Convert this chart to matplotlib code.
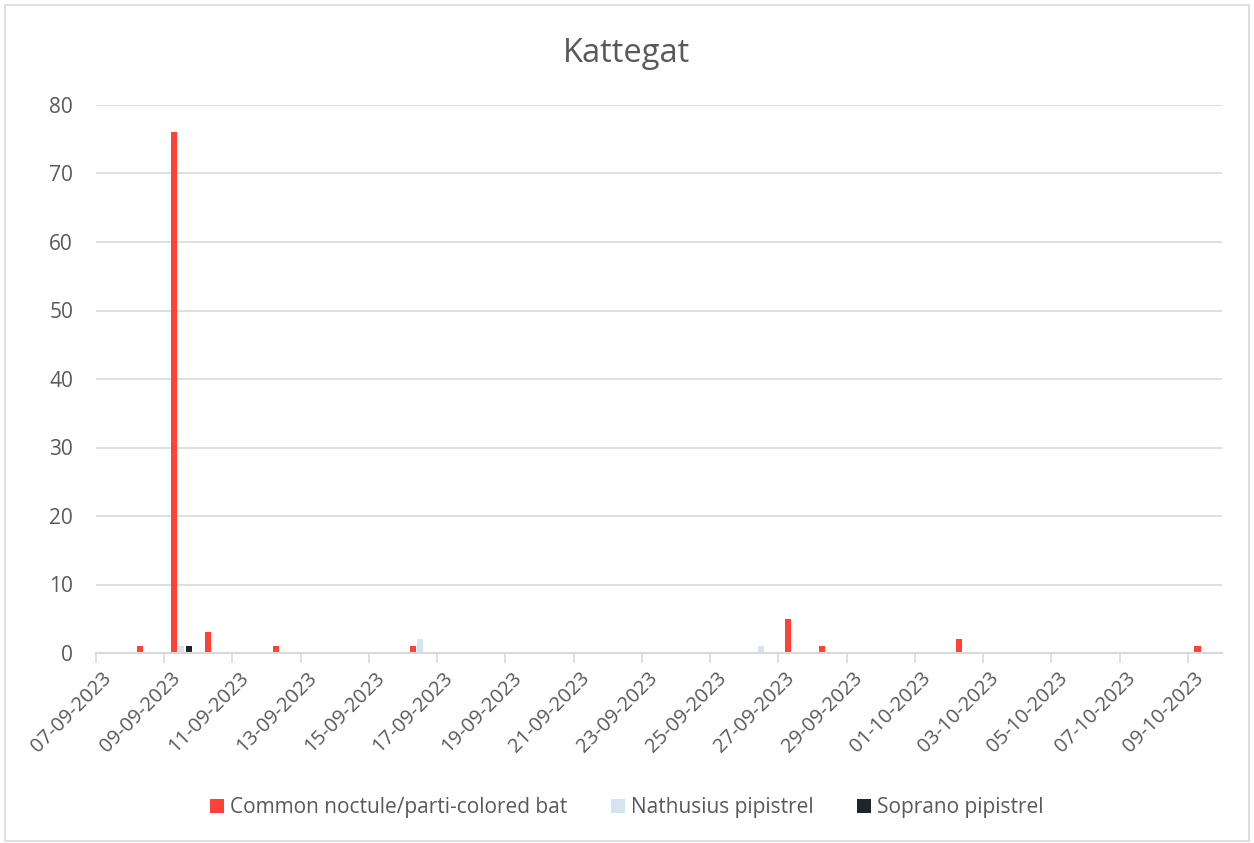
import numpy as np
import matplotlib
matplotlib.use("Agg")
from matplotlib import pyplot as plt
from matplotlib.patches import Rectangle
import matplotlib.transforms as mtransforms

plt.rcParams["font.family"] = ["Open Sans", "DejaVu Sans"]

# one entry per night, 07-09-2023 .. 09-10-2023
days = [
    "07-09-2023", "08-09-2023", "09-09-2023", "10-09-2023", "11-09-2023",
    "12-09-2023", "13-09-2023", "14-09-2023", "15-09-2023", "16-09-2023",
    "17-09-2023", "18-09-2023", "19-09-2023", "20-09-2023", "21-09-2023",
    "22-09-2023", "23-09-2023", "24-09-2023", "25-09-2023", "26-09-2023",
    "27-09-2023", "28-09-2023", "29-09-2023", "30-09-2023", "01-10-2023",
    "02-10-2023", "03-10-2023", "04-10-2023", "05-10-2023", "06-10-2023",
    "07-10-2023", "08-10-2023", "09-10-2023",
]
noctule = [0, 1, 76, 3, 0, 1, 0, 0, 0, 1, 0, 0, 0, 0, 0, 0, 0,
           0, 0, 0, 5, 1, 0, 0, 0, 2, 0, 0, 0, 0, 0, 0, 1]
nathusius = [0, 0, 1, 0, 0, 0, 0, 0, 0, 2, 0, 0, 0, 0, 0, 0, 0,
             0, 0, 1, 0, 0, 0, 0, 0, 0, 0, 0, 0, 0, 0, 0, 0]
soprano = [0, 0, 1, 0, 0, 0, 0, 0, 0, 0, 0, 0, 0, 0, 0, 0, 0,
           0, 0, 0, 0, 0, 0, 0, 0, 0, 0, 0, 0, 0, 0, 0, 0]
series = ["Common noctule/parti-colored bat", "Nathusius pipistrel", "Soprano pipistrel"]
colors = ["#FF4136", "#D6E4EF", "#1F252D"]

grid_col = "#D9D9D9"
text_col = "#595959"

fig = plt.figure(figsize=(12.54, 8.43), dpi=100)
ax = fig.add_axes([96 / 1254, 1 - 653 / 843, (1222 - 96) / 1254, (653 - 105) / 843])

x = np.arange(len(days)) + 0.5
width = 0.18
step = 0.22
for i, (vals, name, col) in enumerate(zip([noctule, nathusius, soprano], series, colors)):
    ax.bar(x + (i - 1) * step, vals, width=width, color=col, label=name, zorder=3)

ax.set_xlim(0, len(days))
ax.set_ylim(0, 80)
ax.set_yticks(range(0, 81, 10))
ax.yaxis.grid(True, color=grid_col, linewidth=1.2, zorder=0)
ax.tick_params(axis="y", length=0, labelsize=15, colors=text_col, pad=16.5)

tick_pos = np.arange(0, len(days), 2)
ax.set_xticks(tick_pos)
ax.set_xticklabels([days[i] for i in tick_pos], rotation=45, ha="right",
                   va="center", rotation_mode="anchor")
ax.tick_params(axis="x", length=7, width=1.2, color=grid_col, labelsize=14.5,
               colors=text_col, pad=6)
ax.tick_params(axis="x", color=grid_col)
shift = mtransforms.ScaledTranslation(13 / 100, -4 / 100, fig.dpi_scale_trans)
for lab in ax.get_xticklabels():
    lab.set_transform(lab.get_transform() + shift)

for s in ["top", "right", "left"]:
    ax.spines[s].set_visible(False)
ax.spines["bottom"].set_color(grid_col)
ax.spines["bottom"].set_linewidth(1.5)
ax.spines["bottom"].set_zorder(4)

fig.text(0.5, 1 - 62 / 843, "Kattegat", ha="center", va="baseline",
         fontsize=23.5, color=text_col)

fig.legend(loc="center", bbox_to_anchor=(0.5, 1 - 808 / 843), ncol=3,
           frameon=False, fontsize=15, handlelength=0.65, handleheight=0.65,
           handletextpad=0.3, columnspacing=2.1, labelcolor=text_col)

fig.patches.append(Rectangle((5 / 1254, 0.002), 1 - 10 / 1254, 1 - 7 / 843,
                             transform=fig.transFigure, fill=False,
                             edgecolor=grid_col, linewidth=1.2))

fig.savefig("out.png", dpi=100)
plt.close(fig)
